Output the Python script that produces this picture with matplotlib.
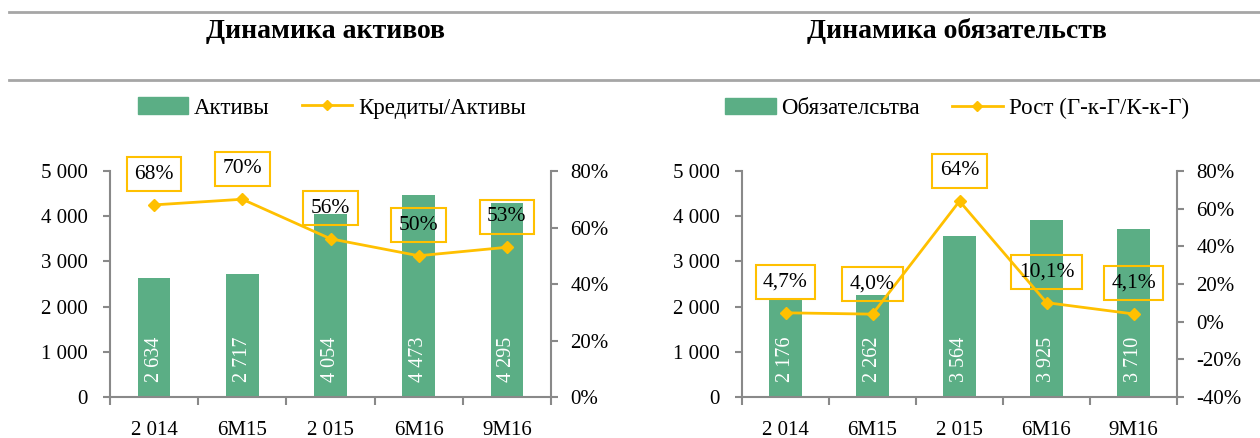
import matplotlib.pyplot as plt
from matplotlib.lines import Line2D
from matplotlib.patches import Patch
from matplotlib.ticker import FuncFormatter, FixedLocator
import numpy as np

plt.rcParams['font.family'] = ['Liberation Serif', 'DejaVu Serif']

periods = ['2 014', '6M15', '2 015', '6M16', '9M16']

assets = [2634, 2717, 4054, 4473, 4295]
loans_to_assets = [68, 70, 56, 50, 53]
loans_labels = ['68%', '70%', '56%', '50%', '53%']

liabilities = [2176, 2262, 3564, 3925, 3710]
growth = [4.7, 4.0, 64, 10.1, 4.1]
growth_labels = ['4,7%', '4,0%', '64%', '10,1%', '4,1%']

GREEN = '#5BAE85'
GOLD = '#FFC000'
GRAY = '#898989'

fig = plt.figure(figsize=(12.6, 4.38), dpi=100)

# horizontal separator lines
for yy in (1 - 12 / 438, 1 - 80 / 438):
    fig.add_artist(Line2D([9 / 1260, 1], [yy, yy], color='#A6A6A6', lw=2,
                          transform=fig.transFigure))

fig.text(325 / 1260, 1 - 31 / 438, 'Динамика активов', ha='center', va='center',
         fontsize=20, fontweight='bold')
fig.text(957 / 1260, 1 - 31 / 438, 'Динамика обязательств', ha='center', va='center',
         fontsize=20, fontweight='bold')


def thousands(v, pos):
    return f'{int(v):,}'.replace(',', ' ')


def draw_panel(rect, bars, line, labels, ylim2, yticks2, bar_name, line_name, legend_x):
    ax = fig.add_axes(rect)
    x = np.arange(len(periods))
    ax.bar(x, bars, width=0.37, color=GREEN, zorder=2)
    for xi, v in zip(x, bars):
        ax.text(xi, 330, thousands(v, None), rotation=90, ha='center', va='bottom',
                color='white', fontsize=14.5, zorder=3)
    ax.set_xlim(-0.5, len(periods) - 0.5)
    ax.set_ylim(0, 5000)
    ax.set_yticks(range(0, 5001, 1000))
    ax.yaxis.set_major_formatter(FuncFormatter(thousands))
    ax.set_xticks(x)
    ax.set_xticklabels(periods)
    ax.xaxis.set_minor_locator(FixedLocator(np.arange(-0.5, len(periods), 1)))
    ax.tick_params(axis='x', which='major', length=0, pad=17, labelsize=15)
    ax.tick_params(axis='x', which='minor', length=6, color=GRAY, width=1.5)
    ax.tick_params(axis='y', length=5, color=GRAY, width=1.5, labelsize=15, pad=11)
    for s in ('top', 'right'):
        ax.spines[s].set_visible(False)
    for s in ('left', 'bottom'):
        ax.spines[s].set_color(GRAY)
        ax.spines[s].set_linewidth(1.5)

    ax2 = ax.twinx()
    ax2.plot(x, line, color=GOLD, lw=2, marker='D', ms=6.5, zorder=4)
    ax2.set_ylim(*ylim2)
    ax2.set_yticks(yticks2)
    ax2.yaxis.set_major_formatter(FuncFormatter(lambda v, p: f'{int(v)}%'))
    ax2.tick_params(axis='y', length=5, color=GRAY, width=1.5, labelsize=15, pad=9)
    for s in ('top', 'left', 'bottom'):
        ax2.spines[s].set_visible(False)
    ax2.spines['right'].set_color(GRAY)
    ax2.spines['right'].set_linewidth(1.5)
    for xi, v, lab in zip(x, line, labels):
        ax2.annotate(lab, (xi, v), xytext=(0, 22), textcoords='offset points',
                     ha='center', va='center', fontsize=15.5, zorder=5,
                     bbox=dict(boxstyle='square,pad=0.35', fc='none', ec=GOLD, lw=1.5))

    handles = [Patch(color=GREEN),
               Line2D([0], [0], color=GOLD, lw=2, marker='D', ms=5.5)]
    fig.legend(handles, [bar_name, line_name], loc='center',
               bbox_to_anchor=(legend_x, 1 - 108 / 438), ncol=2, frameon=False,
               fontsize=16.5, handlelength=2.2, columnspacing=1.4, handletextpad=0.26)
    return ax


draw_panel([110 / 1260, 1 - 397 / 438, 441 / 1260, 226 / 438], assets,
           loans_to_assets, loans_labels, (0, 80), range(0, 81, 20),
           'Активы', 'Кредиты/Активы', 332 / 1260)
draw_panel([742 / 1260, 1 - 397 / 438, 435 / 1260, 226 / 438], liabilities,
           growth, growth_labels, (-40, 80), range(-40, 81, 20),
           'Обязателсьтва', 'Рост (Г-к-Г/К-к-Г)', 957 / 1260)

fig.savefig('out.png', dpi=100)
